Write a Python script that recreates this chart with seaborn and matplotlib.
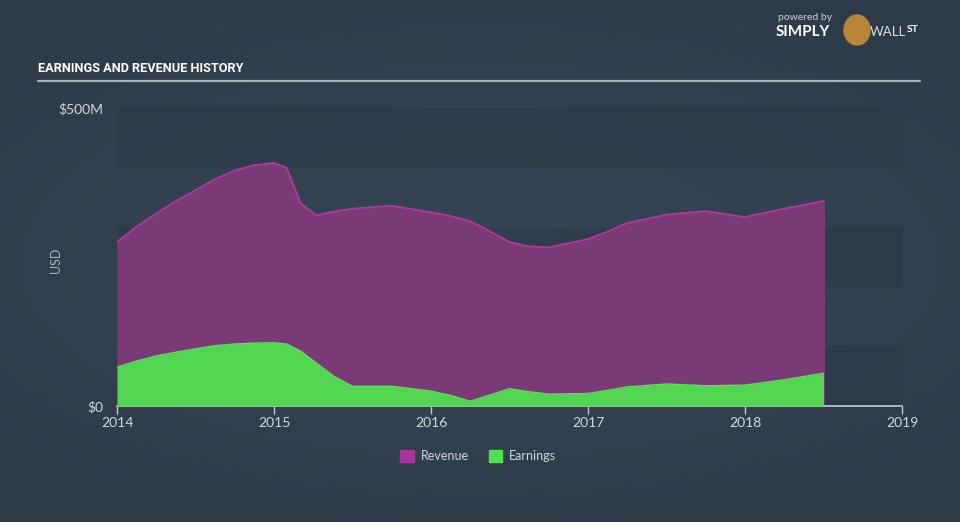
import numpy as np
import pandas as pd
import matplotlib
matplotlib.use("Agg")
import matplotlib.pyplot as plt
import matplotlib.patches as mpatches
import seaborn as sns

# ---- data ----
years = [2014.0, 2014.12, 2014.25, 2014.37, 2014.5, 2014.62, 2014.75, 2014.87, 2015.0,
         2015.08, 2015.17, 2015.27, 2015.38, 2015.5, 2015.75, 2016.0, 2016.12, 2016.25,
         2016.37, 2016.5, 2016.62, 2016.75, 2017.0, 2017.12, 2017.25, 2017.5, 2017.75,
         2018.0, 2018.25, 2018.5]
revenue = [275, 300, 323, 343, 362, 380, 395, 404, 408,
           400, 340, 320, 326, 331, 336, 325, 319, 310,
           294, 275, 268, 266, 280, 292, 307, 321, 327,
           317, 331, 344]          # $M
earnings = [65, 75, 84, 90, 96, 101, 104, 105.5, 106,
            104, 92, 72, 50, 33, 33, 25, 18, 8,
            18, 29, 24, 20, 21, 26, 32, 37, 34,
            35, 44, 55]            # $M
x_ticks = [2014, 2015, 2016, 2017, 2018, 2019]
y_ticks = [0, 500]
y_tick_labels = ["$0", "$500M"]
series_names = ["Revenue", "Earnings"]

df = pd.DataFrame({"year": years, "Revenue": revenue, "Earnings": earnings})

sns.set_theme(style="dark")
plt.rcParams["font.family"] = ["Lato", "DejaVu Sans"]

W, H = 960, 522
fig = plt.figure(figsize=(W / 100, H / 100), dpi=100)

# background gradient (subtle)
bg = fig.add_axes([0, 0, 1, 1])
yy, xx = np.mgrid[0:1:400j, 0:1:400j]
r = np.sqrt(((xx - 0.5) / 1.0) ** 2 + ((yy - 0.5) / 0.8) ** 2)
c_in = np.array([0x36, 0x46, 0x56]) / 255
c_out = np.array([0x2e, 0x3a, 0x48]) / 255
t = np.clip(r / 0.75, 0, 1)[..., None]
img = c_in * (1 - t) + c_out * t
bg.imshow(img, extent=[0, 1, 0, 1], aspect="auto", origin="lower", interpolation="bilinear")
bg.set_axis_off()

left, right = 117 / W, 902 / W
bottom, top = 1 - 406 / H, 1 - 108 / H
ax = fig.add_axes([left, bottom, right - left, top - bottom])
ax.set_facecolor((0, 0, 0, 0))
ax.patch.set_alpha(0)

# stripes
for lo in (0, 200, 400):
    ax.axhspan(lo, lo + 100, color="#2b3846", alpha=0.55, lw=0, zorder=0)

rev_fill, rev_line = "#7a3a76", "#b03aa0"
ear_fill, ear_line = "#52d652", "#5ce35a"

ax.fill_between(df["year"], 0, df["Revenue"], color=rev_fill, lw=0, zorder=1)
sns.lineplot(data=df, x="year", y="Revenue", ax=ax, color=rev_line, lw=1.3, zorder=2)
ax.fill_between(df["year"], 0, df["Earnings"], color=ear_fill, lw=0, zorder=3)
sns.lineplot(data=df, x="year", y="Earnings", ax=ax, color=ear_line, lw=1.0, zorder=4)
ax.vlines(df["year"].iloc[-1], 0, df["Revenue"].iloc[-1], color=rev_fill, lw=0.8, zorder=1)

ax.set_xlim(2014, 2019)
ax.set_ylim(0, 500)
ax.set_xticks(x_ticks)
ax.set_xticklabels([str(v) for v in x_ticks])
ax.set_yticks(y_ticks)
ax.set_yticklabels(y_tick_labels)
ax.set_xlabel("")
ax.set_ylabel("USD", color="#aab2bb", fontsize=9)
ax.yaxis.set_label_coords((62 - 117) / 785, 0.49)
ax.grid(False)
for s in ("top", "right", "left"):
    ax.spines[s].set_visible(False)
ax.spines["bottom"].set_color("#c5cbd2")
ax.spines["bottom"].set_linewidth(1.2)
ax.tick_params(axis="x", colors="#d3d7db", labelsize=10, length=6, width=1,
               direction="out", color="#c5cbd2", pad=2, bottom=True)
ax.tick_params(axis="y", colors="#d3d7db", labelsize=10, length=0, pad=10)

# title + rule
fig.text(38 / W, 1 - 68 / H, "EARNINGS AND REVENUE HISTORY", color="white",
         fontsize=9.2, fontweight="bold",
         family=["Roboto", "DejaVu Sans"], va="center", ha="left")
fig.add_artist(plt.Line2D([38 / W, 920 / W], [1 - 81 / H, 1 - 81 / H],
                          color="#a9b1ba", lw=1.6))

# logo (text)
fig.text(778 / W, 1 - 18 / H, "powered by", color="#c9ced4", fontsize=7.5,
         ha="left", va="center")
fig.text(776 / W, 1 - 32 / H, "SIMPLY", color="white", fontsize=11,
         fontweight="bold", ha="left", va="center")
fig.add_artist(mpatches.Ellipse((857 / W, 1 - 30 / H), 26 / W, 30 / H,
                                transform=fig.transFigure, color="#b88638"))
fig.text(870 / W, 1 - 32 / H, "WALL", color="#d9dde1", fontsize=9.5,
         ha="left", va="center")
fig.text(907 / W, 1 - 29 / H, "ST", color="white", fontsize=7.5,
         fontweight="bold", ha="left", va="center")

# legend
handles = [mpatches.Patch(color="#a8369a", label=series_names[0]),
           mpatches.Patch(color="#4fe04f", label=series_names[1])]
leg = fig.legend(handles=handles, loc="center", bbox_to_anchor=(478 / W, 1 - 456 / H),
                 ncol=2, frameon=False, fontsize=9, handlelength=1.1,
                 handleheight=1.1, columnspacing=1.6, handletextpad=0.5)
for txt in leg.get_texts():
    txt.set_color("#d3d7db")

fig.savefig("out.png", dpi=100)
